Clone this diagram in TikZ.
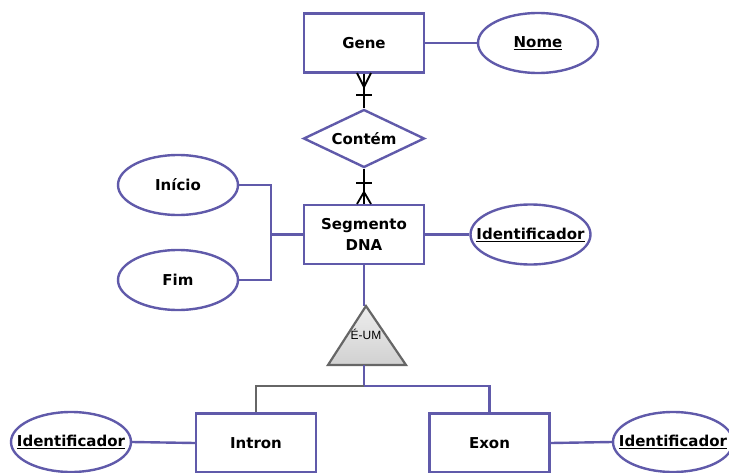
\documentclass[tikz,border=0pt]{standalone}
\usepackage{fontspec}
\setmainfont{DejaVu Sans}
\newfontfamily\isafont{Liberation Sans}
\usetikzlibrary{shapes.geometric}
\definecolor{erblue}{RGB}{96,90,170}
\definecolor{ergray}{RGB}{102,102,102}
\newcommand{\nowd}[1]{\makebox[0pt]{#1}}
\tikzset{
  labelfont/.style={font=\fontsize{15}{17}\selectfont\bfseries},
  entity/.style={draw=erblue, line width=2.4pt, fill=white, minimum width=120pt, minimum height=59pt, inner sep=0pt, labelfont},
  attr/.style={draw=erblue, line width=2.4pt, fill=white, ellipse, minimum width=120pt, minimum height=60pt, inner sep=0pt, labelfont},
  rel/.style={draw=erblue, line width=2.4pt, fill=white, diamond, minimum width=121pt, minimum height=58pt, inner sep=0pt, labelfont},
  link/.style={erblue, line width=2.4pt},
  glink/.style={ergray, line width=2.4pt},
  crow/.style={black, line width=1.8pt},
}
\begin{document}
\begin{tikzpicture}[x=1pt, y=-1pt]
\useasboundingbox (0,0) rectangle (729,472);
% nodes
\node[entity] (gene) at (364,43) {Gene};
\node[attr] (nome) at (538,43) {\nowd{\underline{Nome}}};
\node[rel] (contem) at (364,138.5) {\nowd{Contém}};
\node[entity, align=center] (seg) at (364,234.5) {Segmento\\[4pt]DNA};
\node[attr] (segid) at (530.5,234.5) {\nowd{\underline{Identificador}}};
\node[attr] (inicio) at (178,185) {\nowd{Início}};
\node[attr] (fim) at (178,280) {\nowd{Fim}};
\node[entity] (intron) at (256,443) {Intron};
\node[entity] (exon) at (489.5,443) {Exon};
\node[attr] (intid) at (71,442) {\nowd{\underline{Identificador}}};
\node[attr] (exid) at (673,442) {\nowd{\underline{Identificador}}};
% is-a triangle
\coordinate (tapex) at (366,306);
\coordinate (tl) at (328,365);
\coordinate (tr) at (406,365);
\coordinate (tb) at (364,365);
\shade[top color=white!93!black, bottom color=white!82!black] (tapex) -- (tr) -- (tl) -- cycle;
\draw[ergray, line width=2.2pt, line join=miter] (tapex) -- (tr) -- (tl) -- cycle;
\node[font=\isafont\fontsize{12}{13}\selectfont, inner sep=0pt] (isa) at (366,334) {É-UM};
% connectors
\draw[link] (gene.east) -- (nome.west);
\draw[link] (seg.east) -- (segid.west);
\draw[link] (intid.east) -- (intron.west);
\draw[link] (exon.east) -- (exid.west);
\coordinate (jx) at (271,234.5);
\draw[link] (inicio.east) -| (jx) |- (fim.east);
\draw[link] (jx) -- (seg.west);
\draw[link] (seg.south) -- (364,306);
\coordinate (jb) at (364,386);
\draw[link] (tb) -- (jb) -| (exon.north);
\draw[glink] (jb) -| (intron.north);
% crow's feet
\draw[crow] (gene.south) -- (contem.north);
\draw[crow] (357,73) -- (364,87) -- (371,73);
\draw[crow] (356,95) -- (372,95);
\draw[crow] (contem.south) -- (seg.north);
\draw[crow] (357,204) -- (364,192) -- (371,204);
\draw[crow] (356,183) -- (372,183);
\end{tikzpicture}
\end{document}
